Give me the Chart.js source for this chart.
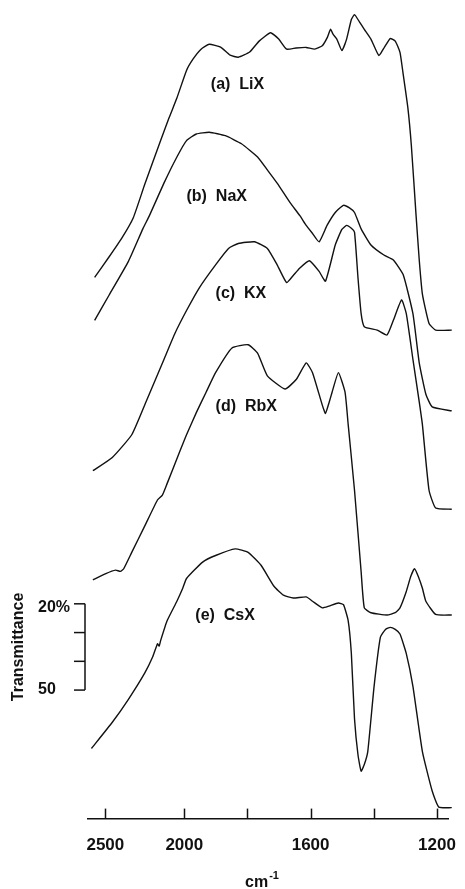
<!DOCTYPE html>
<html>
<head>
<meta charset="utf-8">
<script src="https://cdn.jsdelivr.net/npm/chart.js@4/dist/chart.umd.min.js"></script>
<style>
  html, body { margin: 0; padding: 0; background: #fff; }
</style>
</head>
<body>
<canvas id="irChart" width="465" height="889"></canvas>
<script>
// IR spectra of X zeolites.
// Wavenumber in cm-1, transmittance in % (each trace has its own offset).
const liWn = [2568, 2476, 2397, 2323, 2251, 2150, 2096, 2047, 1993, 1972, 1947, 1921, 1885, 1855, 1829, 1793, 1763, 1727, 1701, 1676, 1646, 1614, 1587, 1563, 1547, 1537, 1529, 1517, 1501, 1486, 1471, 1461, 1446, 1430, 1409, 1384, 1366, 1348, 1332, 1317, 1308, 1292, 1281, 1266, 1256, 1246, 1225, 1204, 1153];
const liT  = [188.2, 195.4, 201.8, 209.0, 220.5, 235.8, 243.8, 250.6, 260.2, 264.2, 267.6, 269.3, 268.3, 265.5, 264.8, 266.6, 270.4, 273.3, 271.1, 267.6, 268.0, 268.2, 267.6, 268.8, 271.7, 274.5, 272.8, 271.1, 267.1, 271.1, 277.9, 279.6, 277.2, 274.5, 271.1, 265.4, 268.3, 271.3, 270.4, 266.5, 259.8, 247.2, 234.1, 209.7, 194.3, 182.4, 172.2, 169.9, 169.9];

const naWn = [2568, 2476, 2354, 2262, 2221, 2129, 2047, 1993, 1962, 1921, 1870, 1819, 1768, 1737, 1706, 1665, 1634, 1614, 1594, 1573, 1548, 1522, 1496, 1477, 1461, 1440, 1409, 1368, 1338, 1307, 1276, 1256, 1235, 1215, 1153];
const naT  = [173.3, 182.1, 193.8, 205.2, 209.7, 221.0, 230.1, 235.8, 238.1, 238.7, 237.5, 234.7, 230.1, 225.6, 221.0, 214.2, 209.7, 206.3, 203.5, 200.6, 206.3, 210.8, 213.3, 212.4, 210.8, 205.1, 199.5, 196.0, 194.3, 189.2, 175.6, 158.5, 147.6, 143.2, 141.8];

const kWn = [2579, 2456, 2333, 2243, 2129, 2059, 1993, 1952, 1901, 1860, 1829, 1778, 1737, 1706, 1676, 1655, 1634, 1604, 1573, 1553, 1522, 1501, 1486, 1471, 1461, 1450, 1440, 1430, 1389, 1358, 1338, 1312, 1297, 1276, 1256, 1246, 1225, 1204, 1153];
const kT  = [121.0, 125.6, 133.5, 144.9, 159.7, 168.8, 176.7, 184.7, 192.6, 198.3, 200.0, 200.6, 198.3, 192.6, 186.4, 188.9, 191.5, 194.0, 190.3, 186.9, 199.5, 204.9, 206.3, 205.3, 204.0, 188.1, 175.6, 171.1, 169.9, 168.2, 173.3, 180.4, 175.6, 159.7, 144.9, 137.0, 114.2, 108.0, 107.6];

const rbWn = [2579, 2497, 2435, 2405, 2384, 2333, 2251, 2170, 2139, 2109, 2027, 1993, 1962, 1931, 1901, 1849, 1798, 1768, 1737, 1681, 1645, 1614, 1594, 1563, 1553, 1541, 1532, 1512, 1491, 1481, 1461, 1440, 1430, 1409, 1358, 1332, 1317, 1297, 1283, 1271, 1259, 1246, 1235, 1204, 1153];
const rbT  = [83.0, 85.2, 86.4, 86.0, 86.9, 92.6, 101.7, 110.8, 112.5, 116.5, 127.9, 133.5, 141.2, 148.3, 155.1, 163.7, 164.8, 161.9, 154.0, 149.4, 152.8, 158.5, 155.1, 143.8, 140.9, 144.9, 148.3, 155.1, 148.3, 137.0, 114.2, 85.8, 73.3, 71.6, 70.8, 71.6, 73.3, 79.0, 84.2, 86.9, 84.2, 80.1, 75.6, 71.0, 70.8];

const csWn = [2588, 2456, 2354, 2251, 2200, 2170, 2159, 2150, 2109, 2047, 2010, 1993, 1942, 1901, 1839, 1798, 1757, 1716, 1686, 1655, 1614, 1594, 1563, 1542, 1512, 1496, 1481, 1471, 1461, 1450, 1440, 1430, 1419, 1399, 1379, 1363, 1348, 1332, 1317, 1297, 1276, 1246, 1215, 1194, 1153];
const csT  = [24.4, 33.5, 41.5, 50.6, 56.3, 60.8, 60.0, 61.9, 68.8, 75.6, 80.1, 83.5, 89.2, 91.5, 93.8, 92.6, 88.1, 80.8, 77.7, 76.7, 77.1, 75.6, 73.3, 73.9, 75.0, 74.4, 68.8, 57.4, 34.7, 22.2, 16.5, 18.8, 23.3, 46.0, 63.1, 65.8, 66.5, 65.8, 64.2, 57.4, 46.0, 23.3, 9.6, 4.0, 3.8];

const xTicks = [2500, 2000, 1800, 1600, 1400, 1200];
const xTickLabels = ['2500', '2000', '', '1600', '', '1200'];
const barLabels = ['20%', '', '', '50'];

// the spectrometer chart is compressed 2:1 above 2000 cm-1
const SPLIT = 2000;
const warp = w => (w > SPLIT ? SPLIT + (w - SPLIT) / 2 : w);
const unwarp = u => (u > SPLIT ? SPLIT + (u - SPLIT) * 2 : u);

class WavenumberScale extends Chart.LinearScale {
    static id = 'wavenumber';
    determineDataLimits() {
        super.determineDataLimits();
        this.min = warp(this.min);
        this.max = warp(this.max);
    }
    buildTicks() {
        return xTicks.map(v => ({ value: v }));
    }
    getPixelForValue(value) {
        return super.getPixelForValue(warp(value));
    }
    getValueForPixel(pixel) {
        return unwarp(super.getValueForPixel(pixel));
    }
}
Chart.register(WavenumberScale);

const ink = '#111111';
const fontFamily = '"Liberation Sans", Arial, sans-serif';

const traces = [
    { name: '(a)  LiX', wn: liWn, t: liT, at: [1916, 255.4] },
    { name: '(b)  NaX', wn: naWn, t: naT, at: [1993, 216.2] },
    { name: '(c)  KX',  wn: kWn,  t: kT,  at: [1901, 182.7] },
    { name: '(d)  RbX', wn: rbWn, t: rbT, at: [1901, 143.2] },
    { name: '(e)  CsX', wn: csWn, t: csT, at: [1965, 70.6] }
];

// ticks pointing into the plot, trace names, transmittance bar, axis title
const decorations = {
    id: 'decorations',
    afterDraw(chart) {
        const { ctx, chartArea, scales: { x, y } } = chart;
        ctx.save();
        ctx.strokeStyle = ink;
        ctx.fillStyle = ink;
        ctx.lineWidth = 1.5;

        // x ticks, drawn upward from the axis
        x.ticks.forEach(t => {
            const px = Math.round(x.getPixelForValue(t.value)) + 0.5;
            ctx.beginPath();
            ctx.moveTo(px, chartArea.bottom);
            ctx.lineTo(px, chartArea.bottom - 10);
            ctx.stroke();
        });

        // trace names
        ctx.font = 'bold 16px ' + fontFamily;
        ctx.textAlign = 'left';
        ctx.textBaseline = 'middle';
        traces.forEach(tr => {
            ctx.fillText(tr.name, x.getPixelForValue(tr.at[0]), y.getPixelForValue(tr.at[1]));
        });

        // transmittance scale bar, 20% .. 50%
        const barX = chartArea.left - 3;
        const barTop = 74.7;
        const stops = [0, 10, 20, 30].map(d => y.getPixelForValue(barTop - d));
        ctx.beginPath();
        ctx.moveTo(barX, stops[0]);
        ctx.lineTo(barX, stops[3]);
        ctx.stroke();
        stops.forEach((py, i) => {
            ctx.beginPath();
            ctx.moveTo(barX, py);
            ctx.lineTo(barX - 11, py);
            ctx.stroke();
            if (barLabels[i]) ctx.fillText(barLabels[i], 38, py + (i === 0 ? 4 : 0));
        });

        ctx.save();
        ctx.translate(19, (stops[0] + stops[3]) / 2);
        ctx.rotate(-Math.PI / 2);
        ctx.textAlign = 'center';
        ctx.font = 'bold 16px ' + fontFamily;
        ctx.fillText('Transmittance', 0, 0);
        ctx.restore();

        // cm-1
        ctx.textBaseline = 'alphabetic';
        ctx.font = 'bold 16px ' + fontFamily;
        ctx.fillText('cm', 245, 887);
        const cmW = ctx.measureText('cm').width;
        ctx.font = 'bold 11px ' + fontFamily;
        ctx.fillText('-1', 245 + cmW + 1, 879);
        ctx.restore();
    }
};

new Chart(document.getElementById('irChart'), {
    type: 'line',
    data: {
        datasets: traces.map(tr => ({
            label: tr.name,
            data: tr.wn.map((w, i) => ({ x: w, y: tr.t[i] })),
            borderColor: ink,
            borderWidth: 1.4,
            pointRadius: 0,
            tension: 0.15,
            fill: false,
            clip: false
        }))
    },
    options: {
        responsive: false,
        animation: false,
        layout: { padding: { left: 88, right: 5, top: 0, bottom: 24 } },
        plugins: {
            legend: { display: false },
            tooltip: { enabled: false }
        },
        scales: {
            x: {
                type: 'wavenumber',
                reverse: true,
                min: 1162,
                max: 2610,
                grid: { display: false },
                border: { display: true, color: ink, width: 1.5 },
                ticks: {
                    autoSkip: false,
                    maxRotation: 0,
                    padding: 9,
                    color: ink,
                    font: { size: 17, weight: 'bold', family: fontFamily },
                    callback: (value, index) => xTickLabels[index]
                }
            },
            y: { display: false, min: 0, max: 284.7 }
        }
    },
    plugins: [decorations]
});
</script>
</body>
</html>
